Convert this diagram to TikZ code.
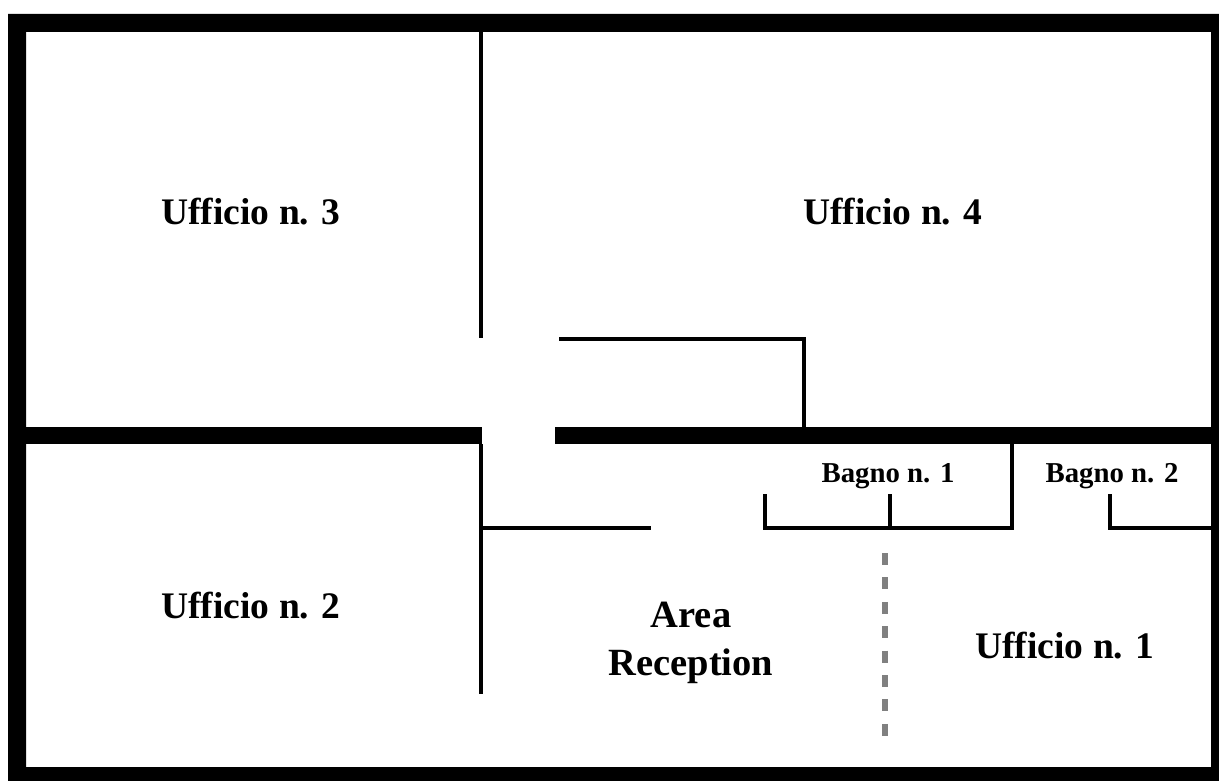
\documentclass[tikz,border=0pt]{standalone}
\usepackage{fontspec}
\setmainfont{Liberation Serif}
\tikzset{x=1pt,y=-1pt,
 thick wall/.style={fill=black,draw=none},
 thin wall/.style={draw=black,line width=3.4pt,line cap=butt,line join=miter},
 big label/.style={font=\bfseries\fontsize{37.5}{44}\selectfont,anchor=base,inner sep=0pt},
 reception label/.style={font=\bfseries\fontsize{38.5}{44}\selectfont,anchor=base,inner sep=0pt},
 small label/.style={font=\bfseries\fontsize{28.8}{32}\selectfont,anchor=base,inner sep=0pt},
 gray dash/.style={draw=black!50,line width=6pt,dash pattern=on 12pt off 12.4pt}}
\begin{document}
\begin{tikzpicture}
\useasboundingbox (0,0) rectangle (1219,781);
\fill[white] (0,0) rectangle (1219,781);
% outer walls
\fill[thick wall,even odd rule] (8,14) rectangle (1219,781) (26,32) rectangle (1211,767);
% middle wall
\fill[thick wall] (26,427) rectangle (482,444);
\fill[thick wall] (555,427) rectangle (1211,444);
% thin walls
\draw[thin wall] (481,32) -- (481,338);
\draw[thin wall] (559,339) -- (804,339) -- (804,427);
\draw[thin wall] (481,444) -- (481,694);
\draw[thin wall] (481,528) -- (651,528);
\draw[thin wall] (765,494) -- (765,528) -- (1012,528) -- (1012,444);
\draw[thin wall] (890,494) -- (890,528);
\draw[thin wall] (1110,494) -- (1110,528) -- (1211,528);
\draw[gray dash] (885,553) -- (885,738);
% labels
\node[big label] (u3) at (251,224) {Ufficio n. 3};
\node[big label] (u4) at (893,224) {Ufficio n. 4};
\node[big label] (u2) at (251,618) {Ufficio n. 2};
\node[big label] (u1) at (1065,658) {Ufficio n. 1};
\node[reception label] (area) at (691,627) {Area};
\node[reception label] (rec) at (691,675) {Reception};
\node[small label] (b1) at (888,482) {Bagno n. 1};
\node[small label] (b2) at (1112,482) {Bagno n. 2};
\end{tikzpicture}
\end{document}
